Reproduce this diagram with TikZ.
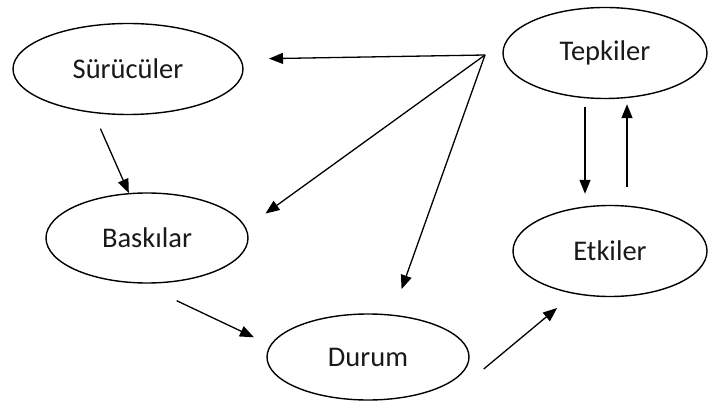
\documentclass[tikz,border=0pt]{standalone}
\usepackage{fontspec}
\setmainfont{Carlito}
\usetikzlibrary{shapes.geometric,arrows.meta}
\begin{document}
\begin{tikzpicture}[x=1pt,y=1pt,>={Triangle[length=14pt,width=11pt]},
  bubble/.style={ellipse,draw,line width=1.4pt,inner sep=0pt,font=\fontsize{28.5}{34}\selectfont,text=black!90},
  link/.style={->,line width=1.3pt}]
\useasboundingbox (0,0) rectangle (708,407);
\node[bubble,minimum width=230pt,minimum height=91pt] (sur) at (128,338) {Sürücüler};
\node[bubble,minimum width=204pt,minimum height=91pt] (tep) at (605,354) {Tepkiler};
\node[bubble,minimum width=202pt,minimum height=90pt] (bas) at (147,169) {Baskılar};
\node[bubble,minimum width=202pt,minimum height=86pt] (dur) at (368,50) {Durum};
\node[bubble,minimum width=194pt,minimum height=91pt] (etk) at (610,156) {Etkiler};
\coordinate (hub) at (485,352);
% from the hub
\draw[link,shorten >=28pt] (hub) -- (sur.5);
\draw[link,shorten >=24pt] (hub) -- (bas.6);
\draw[link,shorten >=27pt] (hub) -- (dur.60);
% chain
\draw[link,shorten <=17pt] (sur.232) -- (bas.112);
\draw[link,shorten <=40pt,shorten >=18pt] (bas.262) -- (dur.173);
\draw[link,shorten >=22pt] ([xshift=14pt,yshift=-12pt]dur.east) -- (etk.230);
% Tepkiler <-> Etkiler
\draw[link,shorten <=8pt,shorten >=11pt] ([xshift=-20pt]tep.south) -- ([xshift=-25pt]etk.north);
\draw[link,shorten <=18pt,shorten >=5pt] ([xshift=17pt]etk.north) -- ([xshift=22pt]tep.south);
\end{tikzpicture}
\end{document}
